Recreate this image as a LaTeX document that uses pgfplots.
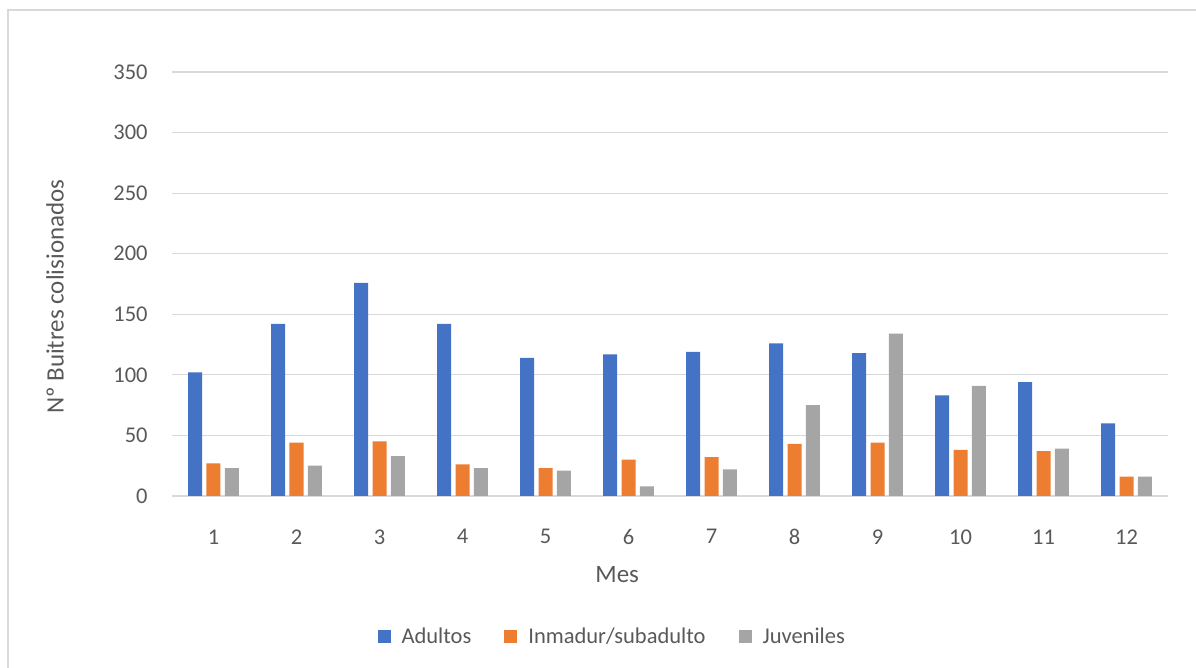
\documentclass[border=0pt]{standalone}
\usepackage{fontspec}
\setmainfont{Carlito}
\usepackage{pgfplots}
\pgfplotsset{compat=1.18}
\definecolor{cAdult}{HTML}{4472C4}
\definecolor{cInm}{HTML}{ED7D31}
\definecolor{cJuv}{HTML}{A5A5A5}
\definecolor{gridc}{HTML}{D9D9D9}
\definecolor{txt}{HTML}{595959}
\begin{document}
\begin{tikzpicture}
\useasboundingbox (0,0) rectangle (598pt,334pt);
% chart frame (right and bottom sides fall outside the picture)
\draw[gridc, line width=0.6pt] (4pt,-10pt) -- (4pt,329pt) -- (610pt,329pt);
\begin{axis}[
    at={(86pt,86pt)}, anchor=south west,
    scale only axis, width=498pt, height=212pt,
    ybar=2.2pt, bar width=7pt,
    xmin=0.5, xmax=12.5,
    ymin=0, ymax=350,
    xtick={1,...,12},
    ytick={0,50,...,350},
    ymajorgrids,
    major grid style={gridc, line width=0.6pt},
    axis line style={draw=none},
    tick style={draw=none},
    /pgf/number format/assume math mode=true,
    every tick label/.append style={font=\fontsize{11.25}{13}\selectfont, text=txt, inner sep=0pt},
    xticklabel style={yshift=-12.3pt},
    yticklabel style={xshift=-12pt},
    xlabel={Mes},
    ylabel={Nº Buitres colisionados},
    label style={font=\fontsize{12.5}{15}\selectfont, text=txt},
    xlabel style={at={(axis description cs:0.447,-0.186)}, anchor=center},
    ylabel style={at={(axis description cs:-0.1175,0.47)}, anchor=center, rotate=0},
    legend columns=3,
    legend style={draw=none, fill=none, at={(axis description cs:0.443,-0.3325)}, anchor=center,
        font=\fontsize{11.25}{13}\selectfont, text=txt,
        /tikz/every odd column/.append style={column sep=3.5pt},
        /tikz/every even column/.append style={column sep=14.5pt}},
    legend image code/.code={\fill[#1] (0pt,-3.25pt) rectangle (6.5pt,3.25pt);},
]
\addplot[fill=cAdult, draw=none] coordinates {
(1,102) (2,142) (3,176) (4,142) (5,114) (6,117)
(7,119) (8,126) (9,118) (10,83) (11,94) (12,60)};
\addplot[fill=cInm, draw=none] coordinates {
(1,27) (2,44) (3,45) (4,26) (5,23) (6,30)
(7,32) (8,43) (9,44) (10,38) (11,37) (12,16)};
\addplot[fill=cJuv, draw=none] coordinates {
(1,23) (2,25) (3,33) (4,23) (5,21) (6,8)
(7,22) (8,75) (9,134) (10,91) (11,39) (12,16)};
\legend{Adultos, Inmadur/subadulto, Juveniles}
\end{axis}
\end{tikzpicture}
\end{document}
